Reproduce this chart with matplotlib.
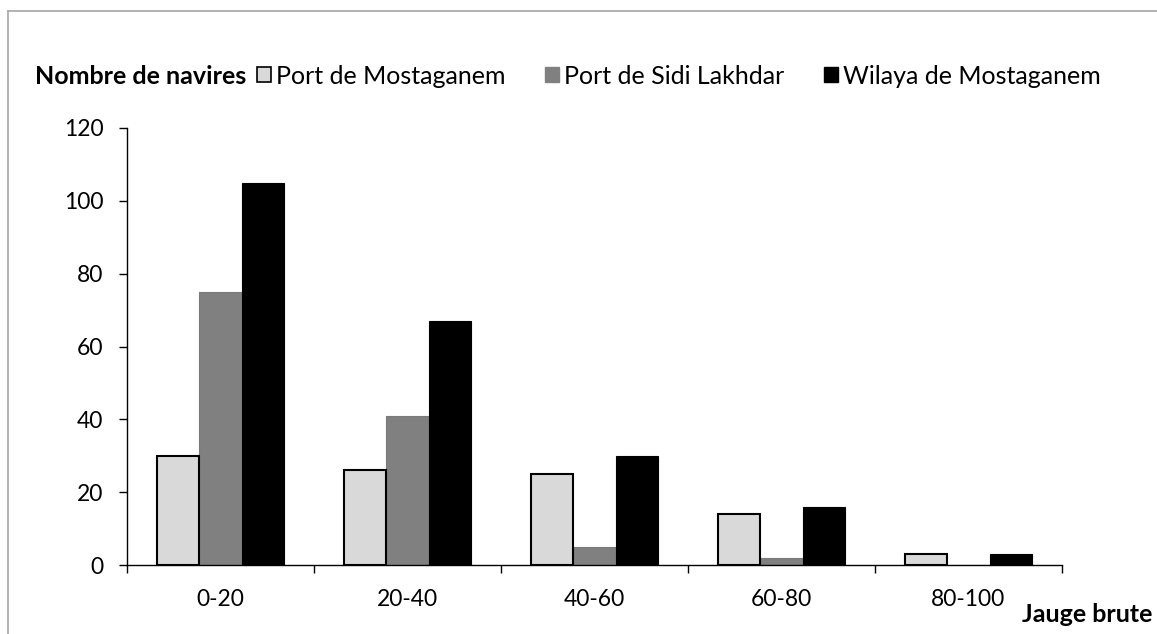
import matplotlib
matplotlib.use("Agg")
import matplotlib.pyplot as plt
from matplotlib.patches import Patch
from matplotlib.lines import Line2D
import numpy as np

plt.rcParams['font.family'] = ['Lato', 'DejaVu Sans']

categories = ["0-20", "20-40", "40-60", "60-80", "80-100"]
port_mostaganem = [30, 26, 25, 14, 3]
port_sidi_lakhdar = [75, 41, 5, 2, 0]
wilaya_mostaganem = [105, 67, 30, 16, 3]
series_names = ["Port de Mostaganem", "Port de Sidi Lakhdar", "Wilaya de Mostaganem"]
y_ticks = [0, 20, 40, 60, 80, 100, 120]

FS = 16.5
FS_TOP = 18
W, H = 1157, 634
fig = plt.figure(figsize=(W / 100, H / 100), dpi=100)
ax = fig.add_axes([127 / W, 1 - 565 / H, (1062 - 127) / W, (565 - 128) / H])

x = np.arange(len(categories))
bw = 0.225
ax.bar(x - bw, port_mostaganem, bw, color="#d9d9d9", edgecolor="black", linewidth=1.5, zorder=3)
ax.bar(x, port_sidi_lakhdar, bw, color="#808080", edgecolor="#7a7a7a", linewidth=0.8, zorder=2)
ax.bar(x + bw, wilaya_mostaganem, bw, color="black", edgecolor="black", linewidth=0.8, zorder=2)

ax.set_xlim(-0.5, len(categories) - 0.5)
ax.set_ylim(0, 120)
ax.set_yticks(y_ticks)
ax.set_yticklabels([str(v) for v in y_ticks], fontsize=FS)
ax.set_xticks(x)
ax.set_xticklabels(categories, fontsize=FS)
ax.tick_params(axis="x", length=0, pad=17)
ax.set_xticks(np.arange(len(categories) + 1) - 0.5, minor=True)
ax.tick_params(axis="x", which="minor", length=6, width=1, direction="out")
ax.tick_params(axis="y", length=6, width=1, direction="out", pad=11)

for s in ["top", "right"]:
    ax.spines[s].set_visible(False)
for s in ["left", "bottom"]:
    ax.spines[s].set_linewidth(1.0)
    ax.spines[s].set_color("black")

# Y axis title and legend along the top
fig.text(35 / W, 1 - 76 / H, "Nombre de navires", fontsize=FS_TOP, fontweight="bold",
         ha="left", va="center")
handles = [
    Patch(facecolor="#d9d9d9", edgecolor="black", linewidth=1.2),
    Patch(facecolor="#808080", edgecolor="#808080"),
    Patch(facecolor="black", edgecolor="black"),
]
fig.legend(handles, series_names, ncol=3, frameon=False, fontsize=FS_TOP,
           loc="center left", bbox_to_anchor=(257 / W, 1 - 76 / H),
           handlelength=0.55, handleheight=0.55, handletextpad=0.2,
           columnspacing=1.6, borderaxespad=0, borderpad=0)

fig.text(1087 / W, 1 - 614 / H, "Jauge brute", fontsize=FS_TOP, fontweight="bold",
         ha="center", va="center")

# Outer chart frame
fig.add_artist(Line2D([8 / W, 1.0], [1 - 11 / H, 1 - 11 / H], color="#a6a6a6", linewidth=1.2))
fig.add_artist(Line2D([8 / W, 8 / W], [1 - 11 / H, 0.0], color="#a6a6a6", linewidth=1.2))

fig.savefig("out.png", dpi=100)
